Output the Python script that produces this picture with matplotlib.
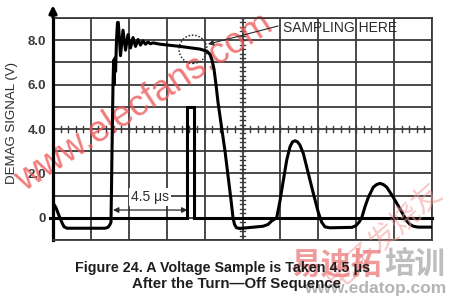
#!/usr/bin/env python3
"""Demag signal trace with the 4.5 us sampling pulse (scope-style grid)."""

import matplotlib

matplotlib.use("Agg")

import matplotlib.pyplot as plt
from matplotlib.patches import Ellipse

# time axis in microseconds (2.25 us per division, 10 divisions)
DIV_US = 2.25
N_DIV = 10

# demag signal (V) vs time (us)
demag_t = [
    0.0, 0.178, 0.356, 0.534, 0.653, 0.831, 3.087, 3.265, 3.384, 3.443,
    3.503, 3.562, 3.598, 3.633, 3.681, 3.716, 3.770, 3.829, 3.877, 4.007,
    4.156, 4.304, 4.453, 4.601, 4.750, 4.898, 5.047, 5.195, 5.344, 5.492,
    5.641, 5.789, 5.938, 6.353, 7.540, 8.727, 9.143,
    9.321, 9.440, 9.558, 9.677, 9.796, 10.212, 10.568, 10.687, 10.776, 10.895,
    11.102, 12.468, 12.765, 12.984, 13.281, 13.477, 13.673, 13.875, 14.071, 14.219,
    14.368, 14.516, 14.664, 14.860, 15.157, 15.454, 15.751, 15.953, 16.149, 16.446,
    17.751, 17.989, 18.167, 18.327, 18.523, 18.719, 19.016, 19.218, 19.414, 19.610,
    19.812, 20.204, 20.602, 21.000, 21.195, 21.391, 21.670, 22.5,
]
demag_v = [
    0.68, 0.45, 0.10, -0.22, -0.40, -0.47, -0.47, -0.43, -0.30, -0.20,
    3.0, 6.0, 7.1, 6.0, 7.2, 6.6, 8.0, 8.8, 8.8, 7.3,
    8.45, 7.55, 8.25, 7.65, 8.12, 7.72, 8.03, 7.78, 7.97, 7.82,
    7.92, 7.84, 7.88, 7.82, 7.72, 7.60, 7.50,
    7.36, 7.10, 6.70, 6.00, 5.20, 3.00, 0.80, 0.00, -0.30, -0.45,
    -0.48, -0.38, -0.30, -0.14, 0.00, 0.77, 1.68, 2.60, 3.20, 3.42,
    3.47, 3.42, 3.27, 2.90, 2.00, 1.10, 0.24, -0.20, -0.41, -0.45,
    -0.43, -0.35, -0.20, 0.00, 0.50, 0.92, 1.38, 1.50, 1.55, 1.50,
    1.38, 0.92, 0.40, -0.14, -0.30, -0.38, -0.42, -0.42,
]

# sampling pulse trace
sample_t = [-0.2, 7.98, 7.98, 8.37, 8.37, 22.5]
sample_v = [0.0, 0.0, 5.0, 5.0, 0.0, 0.0]

YTICKS = list(range(-1, 10))
YLABELS = ["", "0", "", "2.0", "", "4.0", "", "6.0", "", "8.0", ""]

GRID = "#3a3a3a"
INK = "#2b2b2b"
FONT = ["Liberation Sans", "DejaVu Sans"]
CJK = ["Noto Sans CJK SC", "DejaVu Sans"]

fig = plt.figure(figsize=(4.5, 3.0), dpi=100)
ax = fig.add_axes([53 / 450, 60 / 300, 379 / 450, 222 / 300])
ax.set_xlim(0, DIV_US * N_DIV)
ax.set_ylim(-1, 9)

ax.set_xticks([DIV_US * i for i in range(N_DIV + 1)])
ax.set_xticklabels([])
ax.set_yticks(YTICKS)
ax.set_yticklabels(YLABELS, fontsize=9.5, fontweight="bold", color="#3a3a3a", family=FONT)
ax.tick_params(length=0, pad=5)
ax.grid(True, color=GRID, lw=1.3)
ax.set_axisbelow(True)
for side in ["top", "right", "bottom"]:
    ax.spines[side].set_color(GRID)
    ax.spines[side].set_linewidth(1.3)
ax.spines["left"].set_color("black")
ax.spines["left"].set_linewidth(2.3)

# minor ticks on the centre cross-hair
xc = DIV_US * N_DIV / 2
for i in range(5 * N_DIV + 1):
    x = i * DIV_US / 5
    ax.plot([x, x], [3.86, 4.14], color=GRID, lw=1.0, zorder=1)
for i in range(51):
    y = -1 + i * 0.2
    ax.plot([xc - 0.17, xc + 0.17], [y, y], color=GRID, lw=1.0, zorder=1)

# y axis arrow
ax.annotate("", xy=(0, 9.7), xytext=(0, 8.9), annotation_clip=False,
            arrowprops=dict(arrowstyle="-|>", lw=2.3, color="black", mutation_scale=11))

# watermark (under the traces)
ax.text(5.4, 5.2, "www.elecfans.com", rotation=33, fontsize=26, color="#ee5a5a", alpha=0.8,
        ha="center", va="center", family=FONT, zorder=2)

ax.plot(sample_t, sample_v, color="black", lw=2.2, solid_joinstyle="miter", clip_on=False, zorder=4)
ax.plot(demag_t, demag_v, color="black", lw=2.2, solid_joinstyle="round", zorder=5)

# 4.5 us marker
ax.annotate("", xy=(3.56, 0.35), xytext=(7.98, 0.35),
            arrowprops=dict(arrowstyle="<|-|>", lw=0.9, color=INK, mutation_scale=8, shrinkA=0, shrinkB=0))
ax.text(5.76, 0.95, "4.5 \u03bcs", fontsize=10, color=INK, ha="center", va="center", family=FONT,
        bbox=dict(boxstyle="square,pad=0.15", fc="white", ec="none"), zorder=6)

# sampling point
ax.add_patch(Ellipse((8.31, 7.59), 1.66, 1.27, fill=False, ls=(0, (1, 1.2)), lw=1.1, color=INK, zorder=6))
ax.annotate("", xy=(9.2, 7.82), xytext=(13.36, 8.64),
            arrowprops=dict(arrowstyle="-|>", lw=0.8, color=INK, mutation_scale=8, shrinkA=0, shrinkB=0))
ax.text(13.65, 8.55, "SAMPLING HERE", fontsize=10, color=INK, ha="left", va="center", family=FONT, zorder=6)

fig.text(12 / 450, 1 - 123 / 300, "DEMAG SIGNAL (V)", rotation=90, fontsize=9.5, color=INK,
         ha="center", va="center", family=FONT)

# bottom-right watermarks
fig.text(384 / 450, 1 - 236 / 300, "电子发烧友", rotation=42, fontsize=21, color="#f09a9a", alpha=0.55,
         ha="center", va="center", family=CJK, zorder=1)
fig.text(290 / 450, 1 - 265 / 300, "易迪拓", fontsize=22, fontweight="bold", color="#ec7878", alpha=0.75,
         ha="left", va="center", family=CJK, zorder=1)
fig.text(384 / 450, 1 - 265 / 300, "培训", fontsize=22, fontweight="bold", color="#a8a8a8", alpha=0.75,
         ha="left", va="center", family=CJK, zorder=1)
fig.text(446 / 450, 1 - 288 / 300, "www.edatop.com", fontsize=12.5, fontweight="bold", color="#b4b4b4",
         ha="right", va="center", family=FONT, zorder=1)

fig.text(223 / 450, 1 - 268 / 300, "Figure 24. A Voltage Sample is Taken 4.5 \u03bcs", fontsize=10.3,
         fontweight="bold", color="#1e1e1e", ha="center", va="center", family=FONT, zorder=3)
fig.text(236 / 450, 1 - 284 / 300, "After the Turn\u2014Off Sequence", fontsize=10.8,
         fontweight="bold", color="#1e1e1e", ha="center", va="center", family=FONT, zorder=3)

fig.savefig("out.png", dpi=100)
